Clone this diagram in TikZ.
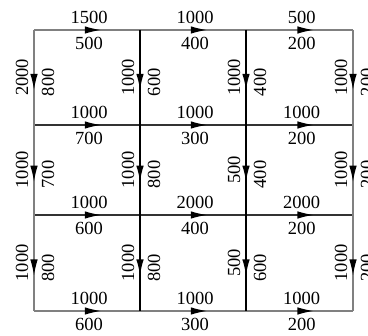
\documentclass[tikz,border=0pt]{standalone}
\usepackage{fontspec}
\setmainfont{Liberation Serif}
\usetikzlibrary{arrows.meta,decorations.markings,positioning}

\tikzset{
  flow/.style={postaction={decorate},
    decoration={markings,mark=at position 0.63 with {\arrow[black]{Latex[length=16pt,width=7.5pt]}}}},
  rimline/.style={draw=black!50,line width=1.2pt,flow},
  hline/.style={draw=black!80,line width=1.2pt,flow},
  midline/.style={draw=black,line width=1.5pt,flow},
  num/.style={font=\fontsize{18.5}{20}\selectfont,inner sep=0pt},
  upper/.style={num,pos=.52,yshift=13pt},
  lower/.style={num,pos=.52,yshift=-13pt},
  lside/.style={num,pos=.5,xshift=-12pt,rotate=90},
  rside/.style={num,pos=.55,xshift=14pt,rotate=90}
}

\begin{document}
\begin{tikzpicture}[x=1pt,y=1pt]
          \useasboundingbox (0,0) rectangle (368,336);
          \clip (0,0) rectangle (368,336);
          % grid corners
          \coordinate (a0) at (34,306);  \coordinate (a1) at (140,306);
          \coordinate (a2) at (246,306); \coordinate (a3) at (353,306);
          \coordinate (b0) at (34,211);  \coordinate (b1) at (140,211);
          \coordinate (b2) at (246,211); \coordinate (b3) at (353,211);
          \coordinate (c0) at (34,121);  \coordinate (c1) at (140,121);
          \coordinate (c2) at (246,121); \coordinate (c3) at (353,121);
          \coordinate (d0) at (34,25);   \coordinate (d1) at (140,25);
          \coordinate (d2) at (246,25);  \coordinate (d3) at (353,25);
          % horizontal segments
          \draw[rimline] (a0) -- node[upper] (ta0) {1500} node[lower] (ba0) {500} (a1);
          \draw[rimline] (a1) -- node[upper] (ta1) {1000} node[lower] (ba1) {400} (a2);
          \draw[rimline] (a2) -- node[upper] (ta2) {500} node[lower] (ba2) {200} (a3);
          \draw[hline] (b0) -- node[upper] (tb0) {1000} node[lower] (bb0) {700} (b1);
          \draw[hline] (b1) -- node[upper] (tb1) {1000} node[lower] (bb1) {300} (b2);
          \draw[hline] (b2) -- node[upper] (tb2) {1000} node[lower] (bb2) {200} (b3);
          \draw[hline] (c0) -- node[upper] (tc0) {1000} node[lower] (bc0) {600} (c1);
          \draw[hline] (c1) -- node[upper] (tc1) {2000} node[lower] (bc1) {400} (c2);
          \draw[hline] (c2) -- node[upper] (tc2) {2000} node[lower] (bc2) {200} (c3);
          \draw[rimline] (d0) -- node[upper] (td0) {1000} node[lower] (bd0) {600} (d1);
          \draw[rimline] (d1) -- node[upper] (td1) {1000} node[lower] (bd1) {300} (d2);
          \draw[rimline] (d2) -- node[upper] (td2) {1000} node[lower] (bd2) {200} (d3);
          % vertical segments
          \draw[rimline] (a0) -- node[lside] (la0) {2000} node[rside] (ra0) {800} (b0);
          \draw[rimline] (b0) -- node[lside] (lb0) {1000} node[rside] (rb0) {700} (c0);
          \draw[rimline] (c0) -- node[lside] (lc0) {1000} node[rside] (rc0) {800} (d0);
          \draw[midline] (a1) -- node[lside] (la1) {1000} node[rside] (ra1) {600} (b1);
          \draw[midline] (b1) -- node[lside] (lb1) {1000} node[rside] (rb1) {800} (c1);
          \draw[midline] (c1) -- node[lside] (lc1) {1000} node[rside] (rc1) {800} (d1);
          \draw[midline] (a2) -- node[lside] (la2) {1000} node[rside] (ra2) {400} (b2);
          \draw[midline] (b2) -- node[lside] (lb2) {500} node[rside] (rb2) {400} (c2);
          \draw[midline] (c2) -- node[lside] (lc2) {500} node[rside] (rc2) {600} (d2);
          \draw[rimline] (a3) -- node[lside] (la3) {1000} node[rside] (ra3) {200} (b3);
          \draw[rimline] (b3) -- node[lside] (lb3) {1000} node[rside] (rb3) {200} (c3);
          \draw[rimline] (c3) -- node[lside] (lc3) {1000} node[rside] (rc3) {200} (d3);
        \end{tikzpicture}
\end{document}
